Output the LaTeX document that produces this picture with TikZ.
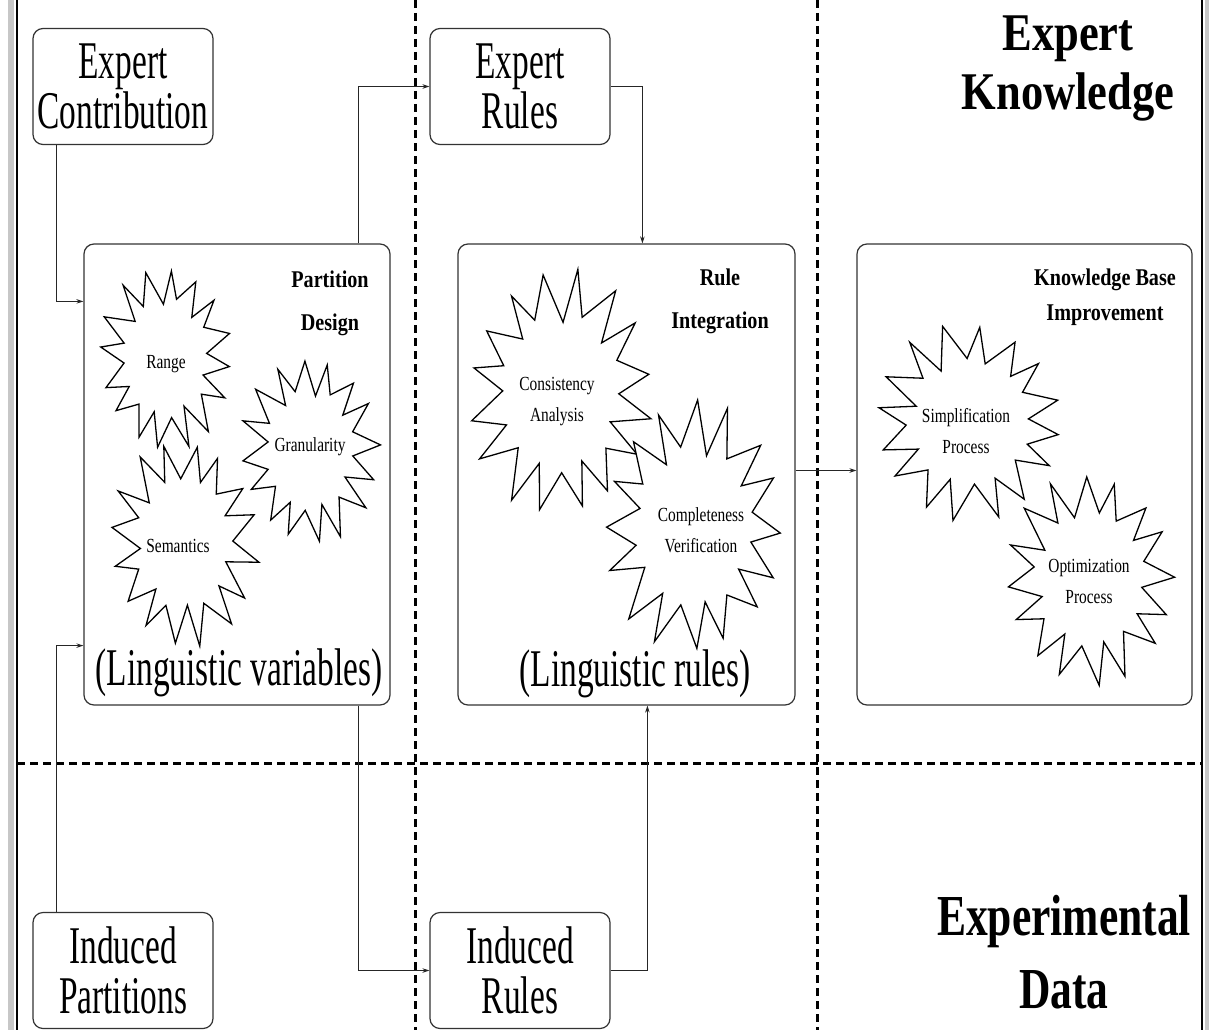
\documentclass[tikz,border=0pt]{standalone}
\usepackage{fontspec}
\setmainfont{Liberation Serif}
\newfontfamily\boxfont{Liberation Serif}[FakeStretch=0.63]
\newfontfamily\headfont{Liberation Serif}[FakeStretch=0.84]
\newfontfamily\datafont{Liberation Serif}[FakeStretch=0.75]
\newfontfamily\subfont{Liberation Serif}[FakeStretch=0.84]
\newfontfamily\starfont{Liberation Serif}[FakeStretch=0.77]
\usetikzlibrary{arrows.meta}

% irregular explosion outline: centre x, centre y, radius x, radius y, phase
\newcommand\spiky[5]{%
  \draw[burst] plot[variable=\t, samples=32, domain=0:31]
    ({#1+br(\t,#5)*#3*cos(ba(\t,#5))},{#2+br(\t,#5)*#4*sin(ba(\t,#5))}) -- cycle;}

\begin{document}
\begin{tikzpicture}[x=1pt,y=-1pt,
  declare function={
    br(\t,\s)=(mod(round(\t),2)==0) ? (1-0.1*abs(sin(\t*77+\s*13))) : (0.55+0.08*abs(sin(\t*41+\s*29)));
    ba(\t,\s)=\t*11.25+\s+2.5*sin(\t*97+\s*3);},
  frame/.style={draw=black!80, line width=1.2pt, rounded corners=10pt},
  smallbox/.style={frame, minimum width=180pt, minimum height=116pt, align=center,
    inner sep=0pt, font=\boxfont\fontsize{53}{50}\selectfont},
  panel/.style={frame, minimum width=#1, minimum height=461pt, inner sep=0pt},
  burst/.style={draw=black, fill=white, line width=1.3pt, line join=miter},
  starlabel/.style={align=center, inner sep=0pt, font=\starfont\fontsize{20}{31}\selectfont},
  paneltitle/.style={align=center, inner sep=0pt, font=\subfont\bfseries\fontsize{24}{43}\selectfont},
  biglabel/.style={inner sep=0pt, font=\boxfont\fontsize{53}{50}\selectfont},
  conn/.style={draw=black!85, line width=1.1pt, -{Stealth[length=7pt,width=4.5pt]}},
  divider/.style={line width=3pt, dash pattern=on 8pt off 5pt},
]
\useasboundingbox (0,0) rectangle (1209,1030);

% page edges
\fill[black!22] (8,0) rectangle (14,1030);
\fill[black!22] (1205,0) rectangle (1209,1030);
\draw[line width=1.1pt] (17,0) -- (17,1030);
\draw[line width=1.1pt] (1202,0) -- (1202,1030);

% region dividers
\draw[divider] (415,0) -- (415,1030);
\draw[divider] (817,0) -- (817,1030);
\draw[divider] (17,763) -- (1202,763);

% region headings
\node[align=center, inner sep=0pt, font=\headfont\bfseries\fontsize{53}{59}\selectfont]
  (hexp) at (1068,68) {Expert\\Knowledge};
\node[align=center, inner sep=0pt, font=\datafont\bfseries\fontsize{58}{73}\selectfont]
  (hdat) at (1064,952) {Experimental\\Data};

% sources
\node[smallbox] (ec) at (123,86.5) {Expert\\Contribution};
\node[smallbox] (er) at (520,86.5) {Expert\\Rules};
\node[smallbox] (ip) at (123,970.5) {Induced\\Partitions};
\node[smallbox] (ir) at (520,970.5) {Induced\\Rules};

% processing panels
\node[panel=306pt] (pd) at (237,474.5) {};
\node[panel=337pt] (ri) at (626.5,474.5) {};
\node[panel=335pt] (kb) at (1024.5,474.5) {};

% partition design
\spiky{166}{358}{70}{96}{5}
\spiky{310}{450}{72}{98}{17}
\spiky{184}{543}{78}{107}{31}
\node[starlabel] (range) at (166,364) {Range};
\node[starlabel] (gran) at (310,447) {Granularity};
\node[starlabel] (sem) at (178,546) {Semantics};
\node[paneltitle] (pdt) at (330,303) {Partition\\Design};
\node[biglabel] (lv) at (239,673) {(Linguistic variables)};

% rule integration
\spiky{561}{393}{98}{128}{11}
\spiky{694}{527}{96}{130}{23}
\node[starlabel] (cons) at (557,402) {Consistency\\Analysis};
\node[starlabel] (comp) at (701,530) {Completeness\\Verification};
\node[paneltitle] (rit) at (720,301) {Rule\\Integration};
\node[biglabel] (lr) at (635,674) {(Linguistic rules)};

% knowledge base improvement
\spiky{969}{422}{100}{102}{7}
\spiky{1090}{579}{90}{109}{19}
\node[starlabel] (simp) at (966,431) {Simplification\\Process};
\node[starlabel] (opt) at (1089,581) {Optimization\\Process};
\node[align=center, inner sep=0pt, font=\subfont\bfseries\fontsize{24}{35}\selectfont]
  (kbt) at (1105,297) {Knowledge Base\\Improvement};

% flows
\draw[conn] ([xshift=24pt]ec.south west) |- ([yshift=-58pt]pd.north west);
\draw[conn] ([xshift=24pt]ip.north west) |- ([yshift=60pt]pd.south west);
\draw[conn] ([xshift=-32pt]pd.north east) |- (er.west);
\draw[conn] (er.east) -| ([xshift=185pt]ri.north west);
\draw[conn] ([xshift=-32pt]pd.south east) |- (ir.west);
\draw[conn] (ir.east) -| ([xshift=190pt]ri.south west);
\draw[conn] ([yshift=4pt]ri.east) -- ([yshift=4pt]kb.west);
\end{tikzpicture}
\end{document}
